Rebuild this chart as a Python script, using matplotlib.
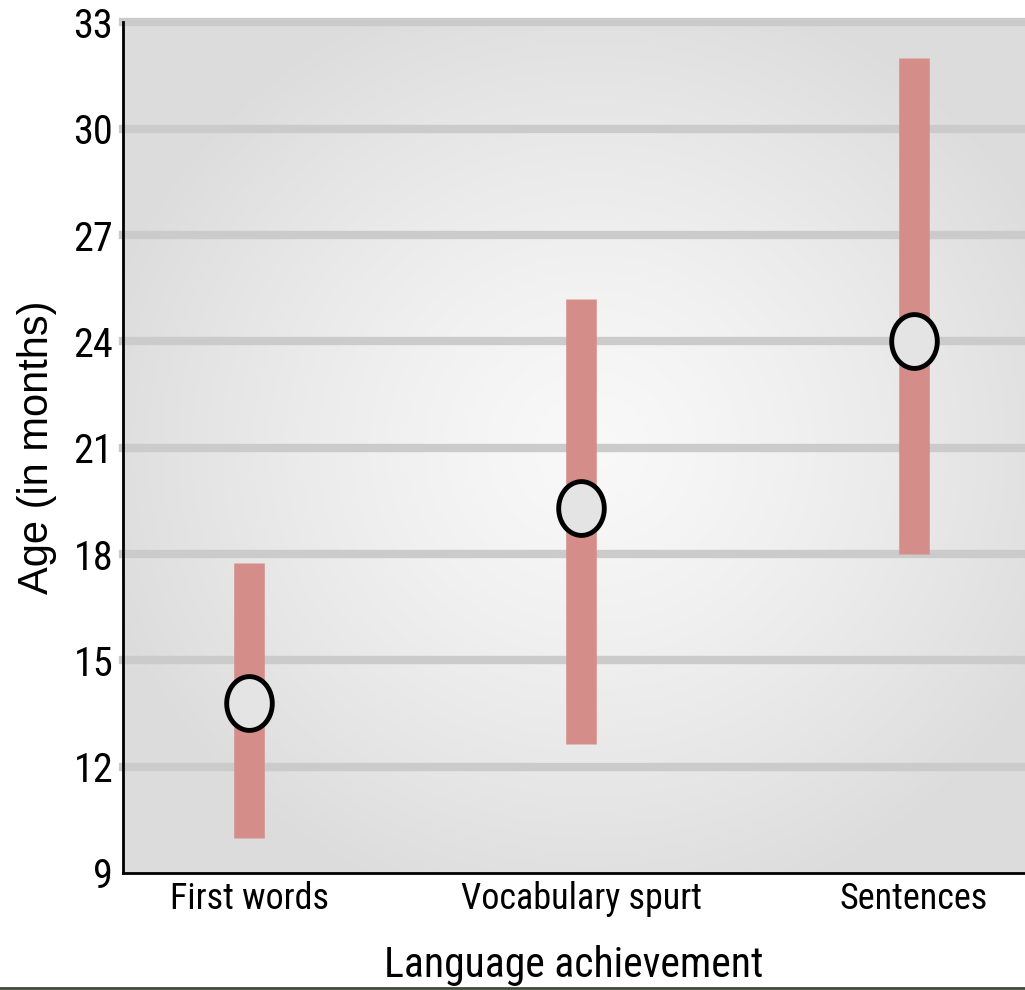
import numpy as np
import matplotlib
matplotlib.use("Agg")
import matplotlib.pyplot as plt
from matplotlib.path import Path
from matplotlib.lines import Line2D

categories = ["First words", "Vocabulary spurt", "Sentences"]
range_low = [10.0, 12.65, 18.0]
range_high = [17.75, 25.2, 32.0]
typical_age = [13.8, 19.3, 24.0]
y_ticks = [9, 12, 15, 18, 21, 24, 27, 30, 33]

plt.rcParams['font.family'] = ['Roboto Condensed', 'DejaVu Sans']
plt.rcParams['font.weight'] = 'normal'

fig = plt.figure(figsize=(10.25, 9.9), dpi=100)
ax = fig.add_axes([0.12, 0.1182, 0.88, 0.8591])

x = np.arange(len(categories))
ax.set_xlim(-0.379, 2.334)
ax.set_ylim(9, 33)

# radial gradient background
gx, gy = np.meshgrid(np.linspace(0, 1, 400), np.linspace(0, 1, 400))
r = np.sqrt(((gx - 0.52) / 0.75) ** 2 + ((gy - 0.5) / 0.75) ** 2)
val = 0.975 - 0.11 * np.clip(r / 0.75, 0, 1) ** 1.3
img = np.dstack([val, val, val])
ax.imshow(img, extent=[0, 1, 0, 1], transform=ax.transAxes, aspect='auto', zorder=0, origin='lower')

for t in y_ticks[1:]:
    ax.axhline(t, color='#cbcbcb', lw=6, zorder=1, clip_on=False)

ax.vlines(x, range_low, range_high, colors='#d58d89', lw=22, zorder=2)

theta = np.linspace(0, 2 * np.pi, 100)
verts = np.column_stack([np.cos(theta), 1.18 * np.sin(theta)])
ell = Path(verts, closed=True)
ax.scatter(x, typical_age, marker=ell, s=1500, facecolor='#e4e4e4', edgecolor='black', linewidths=3.5, zorder=3)

ax.set_xticks(x)
ax.set_xticklabels(categories, fontsize=26)
ax.set_yticks(y_ticks)
ax.set_yticklabels([str(t) for t in y_ticks], fontsize=29)
ax.tick_params(length=0)
ax.tick_params(axis='x', pad=6)
ax.tick_params(axis='y', pad=7)

for s in ['top', 'right']:
    ax.spines[s].set_visible(False)
for s in ['left', 'bottom']:
    ax.spines[s].set_linewidth(2)
    ax.spines[s].set_color('black')
    ax.spines[s].set_zorder(5)

ax.set_xlabel("Language achievement", fontsize=30, labelpad=20)
ax.set_ylabel("Age (in months)", fontsize=30, labelpad=12, family=['Liberation Sans', 'DejaVu Sans'])

fig.add_artist(Line2D([0, 1], [0.0025, 0.0025], transform=fig.transFigure, color='#3f4a38', lw=2))

fig.savefig("out.png", dpi=100)
